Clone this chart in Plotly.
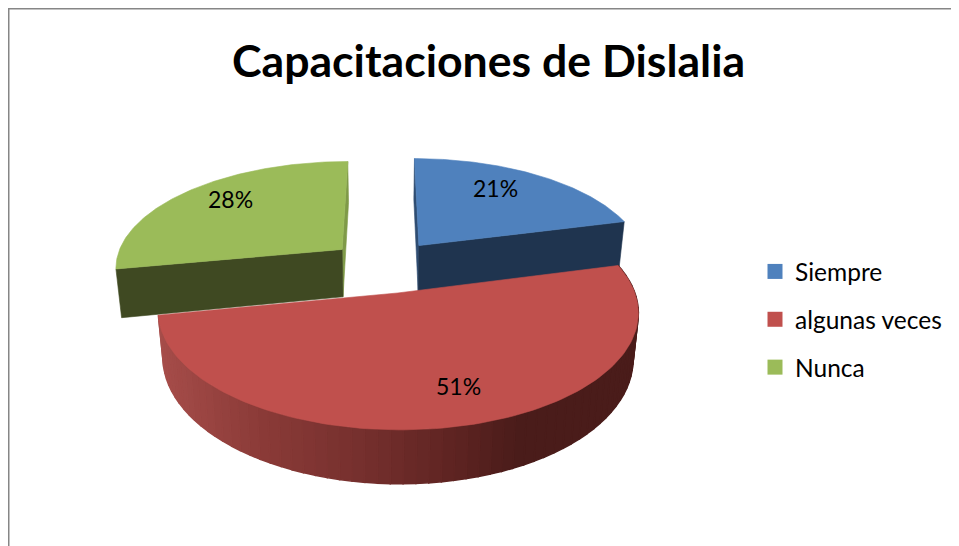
import numpy as np
import plotly.graph_objects as go

categories = ["Siempre", "algunas veces", "Nunca"]
values = [21, 51, 28]

top_colors = ["#4f81bd", "#c0504d", "#9bbb59"]
face_colors = ["#1f344f", "#4d1f1d", "#3f4922"]
strip_colors = ["#2f4d72", "#4d1f1d", "#7f9a48"]

# pie tilt, worked out from the reference (canvas is in pixels)
CX, HORIZON, A, B = 385, -420, 686, 228
PERSP, EXPLODE, SHRINK = 0.155, 0.25, 0.979
WALL_DEPTH, FACE_DEPTH = 43.5, 48.5

# the browser page keeps an 8px body margin, the figure starts after it
PAGE_MARGIN = 8
WIDTH, HEIGHT = 959 - PAGE_MARGIN, 546 - PAGE_MARGIN


def project(theta, r, mid, depth=0):
    # theta is clockwise from 12 o'clock, mid is the slice's explode direction
    px = r * np.sin(theta) + EXPLODE * np.sin(mid)
    py = r * np.cos(theta) + EXPLODE * np.cos(mid)
    s = 1 / (1 + PERSP * py)
    x = CX + B * px * s
    y = HORIZON + A * s
    if depth:
        x = CX + (x - CX) * SHRINK
        y = y + depth * s
    return x, y


def poly(fig, xs, ys, color, width=0.6):
    fig.add_trace(go.Scatter(x=xs, y=ys, mode="lines", fill="toself",
                             fillcolor=color,
                             line=dict(color=color, width=width),
                             hoverinfo="skip", showlegend=False))


def red_wall_color(x):
    stops_x = [160, 260, 380, 470, 520, 640]
    stops_r = [166, 139, 114, 90, 74, 74]
    stops_g = [77, 59, 46, 34, 28, 28]
    stops_b = [74, 56, 44, 32, 26, 26]
    return "rgb(%d,%d,%d)" % (np.interp(x, stops_x, stops_r),
                              np.interp(x, stops_x, stops_g),
                              np.interp(x, stops_x, stops_b))


fig = go.Figure()

total = sum(values)
edges = np.cumsum([0] + values) / total * 2 * np.pi
order = [2, 0, 1]  # red slice goes last, it sits in front

for i in order:
    start, end = edges[i], edges[i + 1]
    mid = (start + end) / 2
    thetas = np.linspace(start, end, 120)

    if i == 1:
        # curved outer wall, split up so it can carry the gradient
        wall = np.linspace(start, end, 70)
        for a, b in zip(wall[:-1], wall[1:]):
            x1, y1 = project(a, 1, mid)
            x2, y2 = project(b, 1, mid)
            x3, y3 = project(b, 1, mid, WALL_DEPTH)
            x4, y4 = project(a, 1, mid, WALL_DEPTH)
            poly(fig, [x1, x2, x3, x4, x1], [y1, y2, y3, y4, y1],
                 red_wall_color((x1 + x2) / 2), width=1.5)
    else:
        # flat cut faces showing through the explode gap
        back = 0 if i == 0 else 2 * np.pi
        front = end if i == 0 else start
        ax, ay = project(0, 0, mid)
        bx, by = project(0, 0, mid, FACE_DEPTH)
        rx, ry = project(back, 1, mid)
        sx, sy = project(back, 1, mid, FACE_DEPTH)
        poly(fig, [ax, rx, sx, bx, ax], [ay, ry, sy, by, ay], strip_colors[i])
        rx, ry = project(front, 1, mid)
        sx, sy = project(front, 1, mid, FACE_DEPTH)
        poly(fig, [ax, rx, sx, bx, ax], [ay, ry, sy, by, ay], face_colors[i])

    rim = [project(t, 1, mid) for t in thetas]
    ax, ay = project(0, 0, mid)
    poly(fig, [ax] + [p[0] for p in rim] + [ax],
         [ay] + [p[1] for p in rim] + [ay], top_colors[i])

# legend entries only
for name, color in zip(categories, top_colors):
    fig.add_trace(go.Scatter(x=[None], y=[None], mode="markers", name=name,
                             legendgroup=name,
                             marker=dict(symbol="square", size=15, color=color)))

label_x = [495, 458, 230]
label_y = [188, 386, 199]
for v, x, y in zip(values, label_x, label_y):
    fig.add_annotation(x=x, y=y, text=f"{v}%", showarrow=False,
                       font=dict(size=23, color="black"))

fig.add_annotation(x=488, y=59, text="<b>Capacitaciones de Dislalia</b>",
                   showarrow=False, font=dict(size=44.6, color="black"))

fig.add_shape(type="line", x0=8.75, x1=8.75, y0=8, y1=546,
              line=dict(color="#868686", width=1.5))
fig.add_shape(type="line", x0=8, x1=959, y0=8.75, y1=8.75,
              line=dict(color="#868686", width=1.5))

fig.update_layout(width=WIDTH, height=HEIGHT,
                  margin=dict(l=0, r=0, t=0, b=0),
                  paper_bgcolor="white", plot_bgcolor="white",
                  font=dict(family="Lato"),
                  xaxis=dict(range=[PAGE_MARGIN, 959], visible=False, fixedrange=True),
                  yaxis=dict(range=[546, PAGE_MARGIN], visible=False, fixedrange=True),
                  legend=dict(x=(755 - PAGE_MARGIN) / WIDTH,
                              y=1 - (249 - PAGE_MARGIN) / HEIGHT,
                              xanchor="left", yanchor="top", tracegroupgap=13,
                              font=dict(size=24.5, color="black"),
                              bgcolor="rgba(0,0,0,0)"))

fig.write_html("out.html")
